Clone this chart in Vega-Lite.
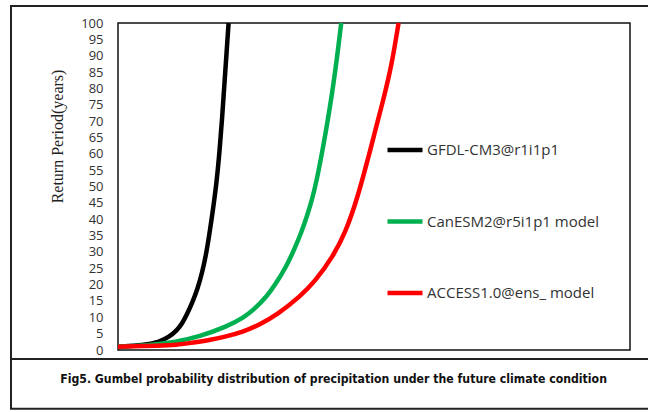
{
  "$schema": "https://vega.github.io/schema/vega-lite/v6.json",
  "width": 512,
  "height": 327,
  "autosize": {"type": "none"},
  "padding": {"left": 118, "top": 23, "right": 18, "bottom": 62},
  "background": "white",
  "config": {
    "view": {"stroke": "#111", "strokeWidth": 1.5},
    "axisY": {
      "labelOverlap": false,
      "grid": false, "domain": false, "ticks": false, "tickSize": 0,
      "labelPadding": 15, "labelFont": "Open Sans", "labelFontSize": 13, "labelColor": "#333",
      "titleFont": "Liberation Serif", "titleFontSize": 16, "titleFontWeight": "normal", "titleColor": "#222",
      "titleAngle": 270, "titleX": -61, "titleY": 113, "titleAlign": "center", "titleBaseline": "middle"
    }
  },
  "layer": [
    {
      "data": {
        "values": [
          {"model": "GFDL-CM3@r1i1p1", "x": 0, "y": 1.0},
          {"model": "GFDL-CM3@r1i1p1", "x": 5, "y": 1.4},
          {"model": "GFDL-CM3@r1i1p1", "x": 8, "y": 2.4},
          {"model": "GFDL-CM3@r1i1p1", "x": 10, "y": 4.0},
          {"model": "GFDL-CM3@r1i1p1", "x": 11.5, "y": 6.0},
          {"model": "GFDL-CM3@r1i1p1", "x": 12.5, "y": 8.0},
          {"model": "GFDL-CM3@r1i1p1", "x": 13.5, "y": 11.0},
          {"model": "GFDL-CM3@r1i1p1", "x": 14.5, "y": 14.5},
          {"model": "GFDL-CM3@r1i1p1", "x": 15.5, "y": 18.5},
          {"model": "GFDL-CM3@r1i1p1", "x": 16.5, "y": 24},
          {"model": "GFDL-CM3@r1i1p1", "x": 17.3, "y": 30},
          {"model": "GFDL-CM3@r1i1p1", "x": 18.0, "y": 37},
          {"model": "GFDL-CM3@r1i1p1", "x": 18.6, "y": 43.5},
          {"model": "GFDL-CM3@r1i1p1", "x": 19.2, "y": 50.5},
          {"model": "GFDL-CM3@r1i1p1", "x": 19.8, "y": 60},
          {"model": "GFDL-CM3@r1i1p1", "x": 20.3, "y": 70},
          {"model": "GFDL-CM3@r1i1p1", "x": 20.9, "y": 84},
          {"model": "GFDL-CM3@r1i1p1", "x": 21.6, "y": 100},
          {"model": "CanESM2@r5i1p1 model", "x": 0, "y": 1.0},
          {"model": "CanESM2@r5i1p1 model", "x": 6.3, "y": 1.5},
          {"model": "CanESM2@r5i1p1 model", "x": 11.2, "y": 2.4},
          {"model": "CanESM2@r5i1p1 model", "x": 16.1, "y": 4.2},
          {"model": "CanESM2@r5i1p1 model", "x": 21.3, "y": 7.2},
          {"model": "CanESM2@r5i1p1 model", "x": 24.5, "y": 9.9},
          {"model": "CanESM2@r5i1p1 model", "x": 26.5, "y": 12.3},
          {"model": "CanESM2@r5i1p1 model", "x": 29.1, "y": 16.4},
          {"model": "CanESM2@r5i1p1 model", "x": 30.8, "y": 20.2},
          {"model": "CanESM2@r5i1p1 model", "x": 32.9, "y": 25.6},
          {"model": "CanESM2@r5i1p1 model", "x": 34.4, "y": 30.7},
          {"model": "CanESM2@r5i1p1 model", "x": 35.8, "y": 35.9},
          {"model": "CanESM2@r5i1p1 model", "x": 36.9, "y": 40.9},
          {"model": "CanESM2@r5i1p1 model", "x": 37.9, "y": 46.0},
          {"model": "CanESM2@r5i1p1 model", "x": 38.7, "y": 51.1},
          {"model": "CanESM2@r5i1p1 model", "x": 40.0, "y": 61.3},
          {"model": "CanESM2@r5i1p1 model", "x": 42.1, "y": 80.6},
          {"model": "CanESM2@r5i1p1 model", "x": 43.6, "y": 100},
          {"model": "ACCESS1.0@ens_ model", "x": 0, "y": 1.0},
          {"model": "ACCESS1.0@ens_ model", "x": 8.3, "y": 1.3},
          {"model": "ACCESS1.0@ens_ model", "x": 11.6, "y": 1.6},
          {"model": "ACCESS1.0@ens_ model", "x": 13.5, "y": 2.0},
          {"model": "ACCESS1.0@ens_ model", "x": 18.0, "y": 3.0},
          {"model": "ACCESS1.0@ens_ model", "x": 21.3, "y": 4.2},
          {"model": "ACCESS1.0@ens_ model", "x": 24.5, "y": 5.6},
          {"model": "ACCESS1.0@ens_ model", "x": 27.5, "y": 7.6},
          {"model": "ACCESS1.0@ens_ model", "x": 31.1, "y": 10.8},
          {"model": "ACCESS1.0@ens_ model", "x": 35.6, "y": 16.4},
          {"model": "ACCESS1.0@ens_ model", "x": 38.5, "y": 21.0},
          {"model": "ACCESS1.0@ens_ model", "x": 42.0, "y": 28.6},
          {"model": "ACCESS1.0@ens_ model", "x": 44.4, "y": 35.9},
          {"model": "ACCESS1.0@ens_ model", "x": 46.7, "y": 46.0},
          {"model": "ACCESS1.0@ens_ model", "x": 49.3, "y": 61.3},
          {"model": "ACCESS1.0@ens_ model", "x": 51.9, "y": 77.0},
          {"model": "ACCESS1.0@ens_ model", "x": 53.4, "y": 86.7},
          {"model": "ACCESS1.0@ens_ model", "x": 54.8, "y": 100}
        ]
      },
      "mark": {"type": "line", "interpolate": "basis", "strokeWidth": 4.5},
      "encoding": {
        "x": {"field": "x", "type": "quantitative", "scale": {"domain": [0, 100], "nice": false, "zero": false}, "axis": null},
        "y": {
          "field": "y", "type": "quantitative",
          "scale": {"domain": [0, 100], "nice": false},
          "axis": {"title": "Return Period(years)", "values": [0,5,10,15,20,25,30,35,40,45,50,55,60,65,70,75,80,85,90,95,100]}
        },
        "color": {
          "field": "model", "type": "nominal",
          "scale": {"domain": ["GFDL-CM3@r1i1p1", "CanESM2@r5i1p1 model", "ACCESS1.0@ens_ model"], "range": ["#000000", "#00b050", "#ff0000"]},
          "legend": {
            "orient": "none", "legendX": 267, "legendY": 107, "title": null,
            "symbolType": "stroke", "symbolSize": 1225, "symbolStrokeWidth": 4.5,
            "labelFont": "Open Sans", "labelFontSize": 15, "labelColor": "#333", "labelLimit": 400,
            "rowPadding": 42.5, "labelOffset": 2, "padding": 0
          }
        },
        "order": {"field": "x", "type": "quantitative"}
      }
    },
    {
      "data": {"values": [{}]},
      "mark": {"type": "rect", "fill": null, "stroke": "#222", "strokeWidth": 2, "clip": false},
      "encoding": {
        "x": {"datum": -20.9, "type": "quantitative", "scale": {"domain": [0, 100]}, "axis": null},
        "x2": {"datum": 110},
        "y": {"datum": -18.0, "type": "quantitative", "scale": {"domain": [0, 100]}, "axis": {"title": "Return Period(years)", "values": [0,5,10,15,20,25,30,35,40,45,50,55,60,65,70,75,80,85,90,95,100]}},
        "y2": {"datum": 105.2}
      }
    },
    {
      "data": {"values": [{}]},
      "mark": {"type": "rule", "stroke": "#222", "strokeWidth": 2, "clip": false},
      "encoding": {
        "x": {"datum": -20.9, "type": "quantitative", "axis": null},
        "x2": {"datum": 110},
        "y": {"datum": -2.75, "type": "quantitative", "axis": {"title": "Return Period(years)", "values": [0,5,10,15,20,25,30,35,40,45,50,55,60,65,70,75,80,85,90,95,100]}}
      }
    },
    {
      "data": {"values": [{}]},
      "mark": {"type": "text", "text": "Fig5. Gumbel probability distribution of precipitation under the future climate condition", "font": "Liberation Sans Narrow, DejaVu Sans Condensed, Liberation Sans", "fontWeight": "bold", "fontSize": 12.2, "color": "#111", "align": "center", "baseline": "middle", "clip": false},
      "encoding": {
        "x": {"datum": 42.1, "type": "quantitative", "axis": null},
        "y": {"datum": -8.9, "type": "quantitative", "axis": {"title": "Return Period(years)", "values": [0,5,10,15,20,25,30,35,40,45,50,55,60,65,70,75,80,85,90,95,100]}}
      }
    }
  ]
}
